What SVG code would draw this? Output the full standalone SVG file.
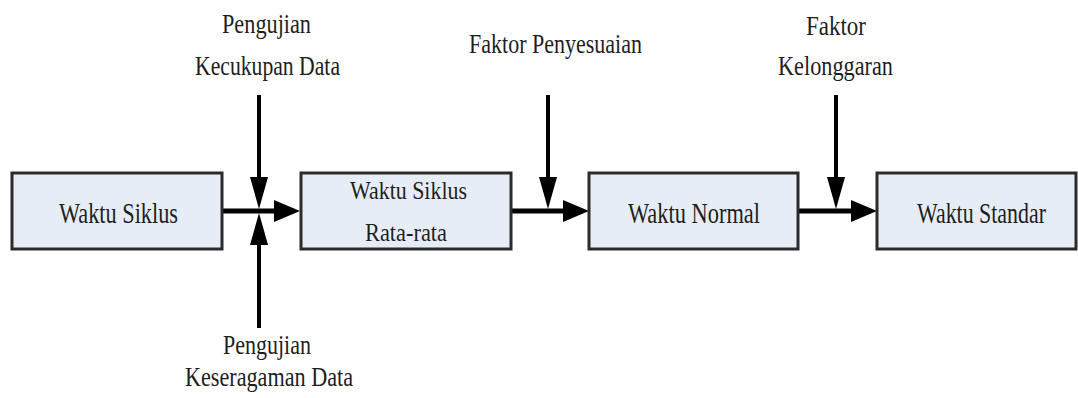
<svg xmlns="http://www.w3.org/2000/svg" width="1078" height="398" viewBox="0 0 1078 398">
<style>
.box{fill:#e7edf6;stroke:#2b2b2b;stroke-width:3}
.t{font-family:'Liberation Serif','DejaVu Serif',serif;fill:#1e1e1e;text-anchor:start}
.lh{stroke:#000;stroke-width:5;fill:none}
.lv{stroke:#000;stroke-width:4;fill:none}
</style>
<defs>
<marker id="ah" markerUnits="userSpaceOnUse" markerWidth="30" markerHeight="26" refX="18" refY="12" orient="auto" viewBox="0 0 30 26">
<path d="M0,1 L26,12 L0,23 Z" fill="#000"/>
</marker>
<marker id="av" markerUnits="userSpaceOnUse" markerWidth="34" markerHeight="20" refX="24" refY="9" orient="auto" viewBox="0 0 34 20">
<path d="M0,0 L32,9 L0,18 Z" fill="#000"/>
</marker>
</defs>
<rect width="1078" height="398" fill="#fff"/>
<g id="connectors">
<line class="lh" x1="222" y1="211" x2="292" y2="211" marker-end="url(#ah)"/>
<line class="lh" x1="511" y1="211" x2="581" y2="211" marker-end="url(#ah)"/>
<line class="lh" x1="799" y1="211" x2="869" y2="211" marker-end="url(#ah)"/>
<line class="lv" x1="259" y1="95" x2="259" y2="201" marker-end="url(#av)"/>
<line class="lv" x1="259" y1="328" x2="259" y2="221" marker-end="url(#av)"/>
<line class="lv" x1="548" y1="95" x2="548" y2="201" marker-end="url(#av)"/>
<line class="lv" x1="836" y1="95" x2="836" y2="201" marker-end="url(#av)"/>
</g>
<g id="node-waktu-siklus">
<rect class="box" x="12" y="173" width="210" height="76"/>
<text class="t" font-family="Liberation Serif" x="59" y="223" font-size="30" textLength="119" lengthAdjust="spacingAndGlyphs">Waktu Siklus</text>
</g>
<g id="node-waktu-siklus-rata">
<rect class="box" x="301" y="173" width="210" height="76"/>
<text class="t" x="350" y="199" font-size="26" textLength="117" lengthAdjust="spacingAndGlyphs">Waktu Siklus</text>
<text class="t" x="365" y="241" font-size="26" textLength="82" lengthAdjust="spacingAndGlyphs">Rata-rata</text>
</g>
<g id="node-waktu-normal">
<rect class="box" x="589" y="173" width="209" height="76"/>
<text class="t" x="628" y="223" font-size="30" textLength="132" lengthAdjust="spacingAndGlyphs">Waktu Normal</text>
</g>
<g id="node-waktu-standar">
<rect class="box" x="877" y="173" width="199" height="76"/>
<text class="t" x="917" y="223" font-size="30" textLength="129" lengthAdjust="spacingAndGlyphs">Waktu Standar</text>
</g>
<g id="label-kecukupan">
<text class="t" x="222" y="33" font-size="27" textLength="89" lengthAdjust="spacingAndGlyphs">Pengujian</text>
<text class="t" x="195" y="75" font-size="27" textLength="145" lengthAdjust="spacingAndGlyphs">Kecukupan Data</text>
</g>
<g id="label-keseragaman">
<text class="t" x="223" y="354" font-size="27" textLength="88" lengthAdjust="spacingAndGlyphs">Pengujian</text>
<text class="t" x="185" y="386" font-size="27" textLength="168" lengthAdjust="spacingAndGlyphs">Keseragaman Data</text>
</g>
<g id="label-penyesuaian">
<text class="t" x="469" y="53" font-size="27" textLength="173" lengthAdjust="spacingAndGlyphs">Faktor Penyesuaian</text>
</g>
<g id="label-kelonggaran">
<text class="t" x="806" y="35" font-size="27" textLength="60" lengthAdjust="spacingAndGlyphs">Faktor</text>
<text class="t" x="778" y="75" font-size="27" textLength="115" lengthAdjust="spacingAndGlyphs">Kelonggaran</text>
</g>
</svg>
